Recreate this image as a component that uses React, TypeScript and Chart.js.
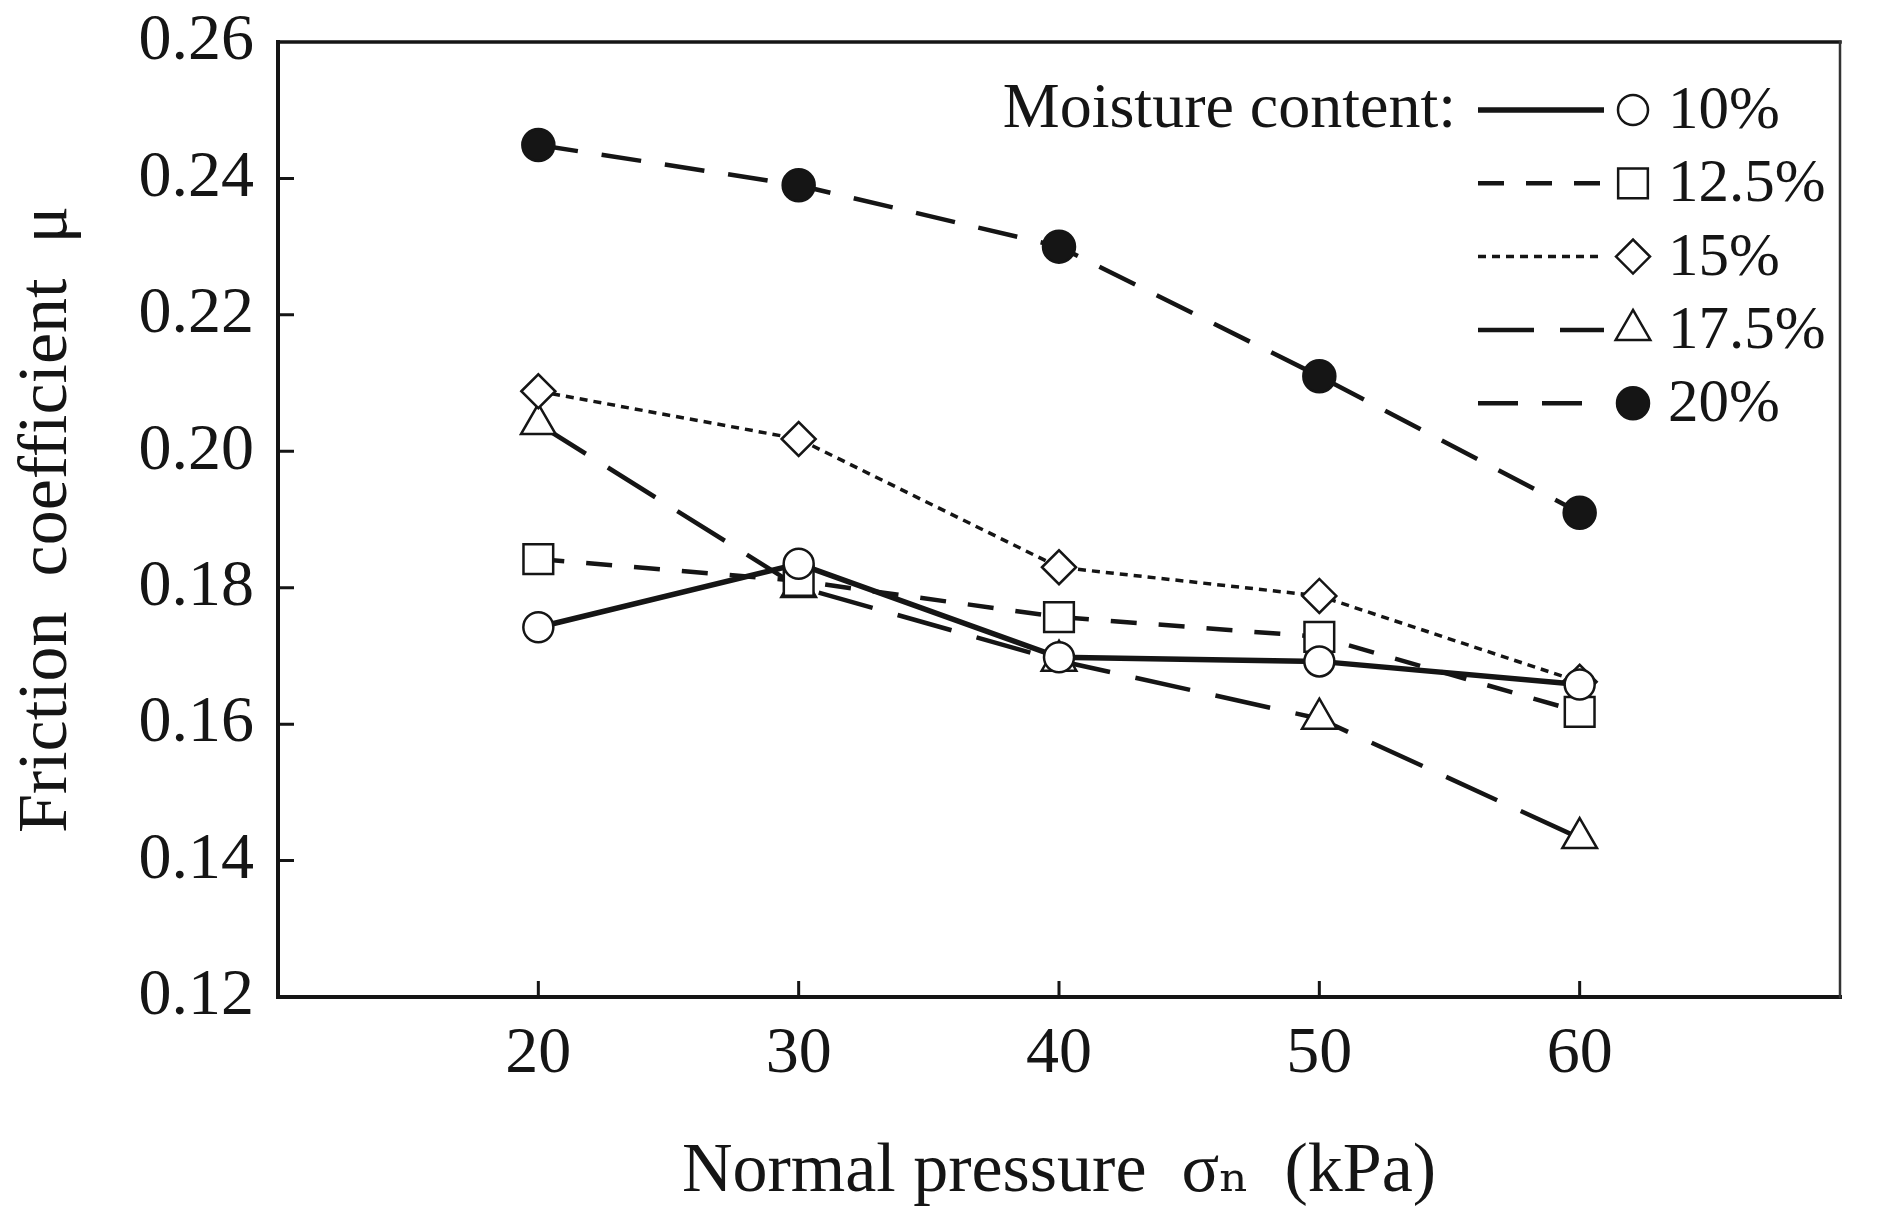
import React, { useEffect, useRef } from 'react';
import { Chart, registerables } from 'chart.js';

Chart.register(...registerables);

// ---- data ----
const pressures = [20, 30, 40, 50, 60];
const mc10 = [0.1742, 0.1835, 0.1698, 0.1692, 0.1658];
const mc125 = [0.1842, 0.181, 0.1757, 0.1728, 0.1618];
const mc15 = [0.2088, 0.2018, 0.183, 0.1788, 0.1662];
const mc175 = [0.204, 0.1801, 0.1693, 0.1608, 0.1433];
const mc20 = [0.2449, 0.239, 0.23, 0.211, 0.191];
const seriesLabels = ['10%', '12.5%', '15%', '17.5%', '20%'];
const xTickValues = [20, 30, 40, 50, 60];
const yTickValues = [0.12, 0.14, 0.16, 0.18, 0.2, 0.22, 0.24, 0.26];
const legendHeading = 'Moisture content:';
const xTitle = 'Normal pressure  σₙ  (kPa)';
const yTitle = 'Friction  coefficient  μ';

const W = 1877;
const H = 1217;
const SERIF = '"Liberation Serif", "Times New Roman", "DejaVu Serif", serif';
const INK = '#151515';

type SeriesStyle = { dash: number[]; width: number; point: string; radius: number; fill: string };
const styles: SeriesStyle[] = [
  { dash: [], width: 5.5, point: 'circle', radius: 15, fill: '#ffffff' },
  { dash: [26, 22], width: 4.5, point: 'rect', radius: 21, fill: '#ffffff' },
  { dash: [8, 6], width: 3.5, point: 'rectRot', radius: 17, fill: '#ffffff' },
  { dash: [56, 26], width: 4.5, point: 'triangle', radius: 20, fill: '#ffffff' },
  { dash: [40, 24], width: 4.5, point: 'circle', radius: 16, fill: INK },
];

function drawMarker(ctx: CanvasRenderingContext2D, kind: string, x: number, y: number, r: number) {
  ctx.beginPath();
  if (kind === 'circle') {
    ctx.arc(x, y, r, 0, Math.PI * 2);
  } else if (kind === 'rect') {
    const s = r * Math.SQRT1_2;
    ctx.rect(x - s, y - s, 2 * s, 2 * s);
  } else if (kind === 'rectRot') {
    ctx.moveTo(x - r, y);
    ctx.lineTo(x, y - r);
    ctx.lineTo(x + r, y);
    ctx.lineTo(x, y + r);
    ctx.closePath();
  } else if (kind === 'triangle') {
    ctx.moveTo(x, y - r);
    ctx.lineTo(x + r * Math.sin((2 * Math.PI) / 3), y + r * 0.5);
    ctx.lineTo(x - r * Math.sin((2 * Math.PI) / 3), y + r * 0.5);
    ctx.closePath();
  }
  ctx.fill();
  ctx.stroke();
}

const framePlugin = {
  id: 'frame',
  beforeDatasetsDraw(chart: any) {
    const { ctx, chartArea: a, scales } = chart;
    ctx.save();
    ctx.strokeStyle = INK;
    ctx.lineCap = 'square';
    ctx.lineWidth = 4;
    ctx.beginPath();
    ctx.moveTo(a.left, a.top);
    ctx.lineTo(a.left, a.bottom);
    ctx.lineTo(a.right, a.bottom);
    ctx.stroke();
    ctx.lineWidth = 3.5;
    ctx.beginPath();
    ctx.moveTo(a.left, a.top);
    ctx.lineTo(a.right, a.top);
    ctx.stroke();
    ctx.lineWidth = 2.5;
    ctx.strokeStyle = '#333';
    ctx.beginPath();
    ctx.moveTo(a.right, a.top);
    ctx.lineTo(a.right, a.bottom);
    ctx.stroke();
    ctx.strokeStyle = INK;
    ctx.lineWidth = 3;
    ctx.lineCap = 'butt';
    ctx.beginPath();
    yTickValues.slice(1, -1).forEach((v) => {
      const py = scales.y.getPixelForValue(v);
      ctx.moveTo(a.left, py);
      ctx.lineTo(a.left + 16, py);
    });
    xTickValues.forEach((v) => {
      const px = scales.x.getPixelForValue(v);
      ctx.moveTo(px, a.bottom);
      ctx.lineTo(px, a.bottom - 16);
    });
    ctx.stroke();
    ctx.restore();
  },
};

const legendPlugin = {
  id: 'customLegend',
  afterDatasetsDraw(chart: any) {
    const { ctx } = chart;
    const rowY0 = 110;
    const rowStep = 73.3;
    const lineX0 = 1478;
    const lineX1 = 1604;
    const markX = 1633;
    const textX = 1668;
    ctx.save();
    ctx.fillStyle = INK;
    ctx.font = `64px ${SERIF}`;
    ctx.textBaseline = 'middle';
    ctx.textAlign = 'right';
    ctx.fillText(legendHeading, 1456, rowY0);
    ctx.font = `61px ${SERIF}`;
    chart.data.datasets.forEach((ds: any, i: number) => {
      const y = rowY0 + i * rowStep;
      ctx.strokeStyle = INK;
      ctx.lineWidth = ds.borderWidth;
      ctx.setLineDash(ds.borderDash || []);
      ctx.beginPath();
      ctx.moveTo(lineX0, y);
      ctx.lineTo(lineX1, y);
      ctx.stroke();
      ctx.setLineDash([]);
      ctx.lineWidth = ds.pointBorderWidth;
      ctx.fillStyle = ds.pointBackgroundColor;
      drawMarker(ctx, ds.pointStyle, markX, y, ds.pointRadius);
      ctx.fillStyle = INK;
      ctx.textAlign = 'left';
      ctx.fillText(ds.label, textX, y + 2);
    });
    ctx.restore();
  },
};

export default function App() {
  const ref = useRef<HTMLCanvasElement | null>(null);

  useEffect(() => {
    if (!ref.current) return;
    const seriesValues = [mc10, mc125, mc15, mc175, mc20];
    const chart = new Chart(ref.current, {
      type: 'line',
      data: {
        datasets: seriesValues.map((vals, i) => ({
          label: seriesLabels[i],
          data: pressures.map((x, j) => ({ x, y: vals[j] })),
          borderColor: INK,
          borderWidth: styles[i].width,
          borderDash: styles[i].dash,
          borderCapStyle: 'butt',
          pointStyle: styles[i].point,
          pointRadius: styles[i].radius,
          pointHoverRadius: styles[i].radius,
          pointBorderWidth: 2.5,
          pointBackgroundColor: styles[i].fill,
          pointBorderColor: INK,
          tension: 0,
          fill: false,
        })) as any,
      },
      options: {
        animation: false,
        responsive: false,
        maintainAspectRatio: false,
        devicePixelRatio: 1,
        events: [],
        layout: { padding: { top: 42, right: 37, left: 0, bottom: 0 } },
        plugins: {
          legend: { display: false },
          tooltip: { enabled: false },
        },
        scales: {
          x: {
            type: 'linear',
            min: 10,
            max: 70,
            afterBuildTicks: (s: any) => {
              s.ticks = xTickValues.map((v) => ({ value: v }));
            },
            afterFit: (s: any) => {
              s.height = 220;
              s.paddingLeft = 0;
              s.paddingRight = 0;
            },
            grid: { display: false, drawTicks: false },
            border: { display: false },
            ticks: {
              color: INK,
              padding: 25,
              font: { family: SERIF, size: 66, lineHeight: 1 },
              callback: (v: any) => String(v),
            },
            title: {
              display: true,
              text: xTitle,
              color: INK,
              font: { family: SERIF, size: 70, lineHeight: 1 },
              padding: { top: 0, bottom: 9 },
            },
          },
          y: {
            type: 'linear',
            min: 0.12,
            max: 0.26,
            afterBuildTicks: (s: any) => {
              s.ticks = yTickValues.map((v) => ({ value: v }));
            },
            afterFit: (s: any) => {
              s.width = 278;
              s.paddingTop = 0;
              s.paddingBottom = 0;
            },
            grid: { display: false, drawTicks: false },
            border: { display: false },
            ticks: {
              color: INK,
              padding: 24,
              font: { family: SERIF, size: 66, lineHeight: 1 },
              callback: (v: any) => Number(v).toFixed(2),
            },
            title: {
              display: true,
              text: yTitle,
              color: INK,
              font: { family: SERIF, size: 70, lineHeight: 1 },
              padding: { top: 13, bottom: 0 },
            },
          },
        },
      } as any,
      plugins: [framePlugin, legendPlugin],
    });
    return () => chart.destroy();
  }, []);

  return (
    <div style={{ position: 'absolute', left: 0, top: 0, width: W, height: H, background: '#ffffff' }}>
      <canvas ref={ref} width={W} height={H} style={{ width: W, height: H, display: 'block' }} />
    </div>
  );
}
